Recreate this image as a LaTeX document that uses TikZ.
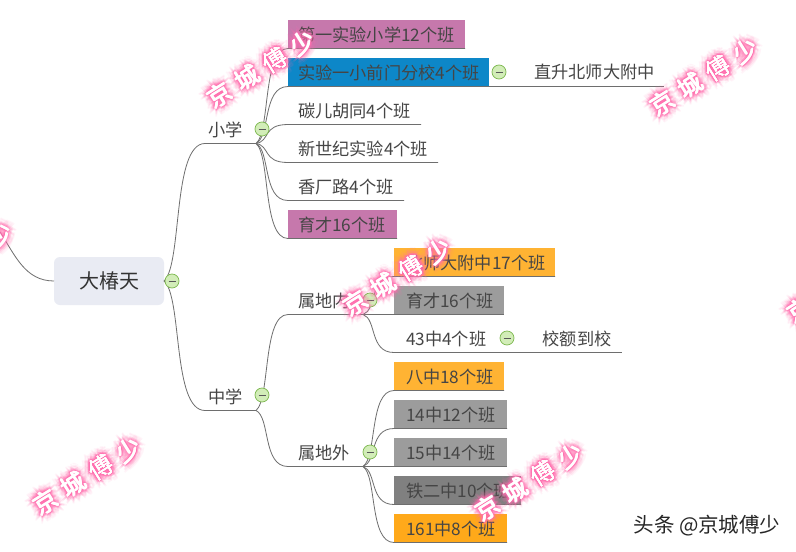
\documentclass[tikz,border=0pt]{standalone}
\usepackage{fontspec}
\usetikzlibrary{calc}
\setmainfont{Noto Sans CJK SC}
\definecolor{txt}{HTML}{454545}
\definecolor{lnk}{HTML}{6E6E6E}
\definecolor{pinkbox}{HTML}{C678AC}
\definecolor{bluebox}{HTML}{0D87C8}
\definecolor{ambbox}{HTML}{FFB333}
\definecolor{orgbox}{HTML}{FFA91A}
\definecolor{graybox}{HTML}{9C9C9C}
\definecolor{dgraybox}{HTML}{808080}
\definecolor{rootbox}{HTML}{E9EBF3}
\definecolor{glow}{HTML}{FF6FB0}
\definecolor{foldfill}{HTML}{D2EDB8}
\definecolor{foldline}{HTML}{7DB84F}
\tikzset{
  x=1pt,y=-1pt,
  conn/.style={draw=lnk,line width=0.8pt},
  topic/.style={anchor=south west,inner xsep=10pt,inner ysep=0pt,outer sep=0pt,
    minimum height=29pt,text height=15pt,text depth=1pt,align=left,
    text=txt,font=\fontsize{17.2}{17}\selectfont,text width=#1-20pt},
  tight/.style={inner xsep=3pt,text width=#1-6pt},
  plain/.style={anchor=center,inner sep=0pt,text=txt,font=\fontsize{17.2}{17}\selectfont},
  rootnode/.style={rectangle,rounded corners=6pt,fill=rootbox,minimum width=110pt,minimum height=48pt,
    inner sep=0pt,outer sep=0pt,text=black!80,font=\fontsize{20}{20}\selectfont},
  fold/.style={circle,draw=foldline,fill=foldfill,line width=0.7pt,
    minimum size=14pt,inner sep=0pt,
    path picture={\draw[black!65,line width=0.9pt] (-3.5pt,0pt) -- (3.5pt,0pt);}},
  capt/.style={anchor=center,inner sep=0pt,text=black!85,font=\fontsize{20.5}{21}\selectfont},
  wmglyph/.style={rotate=32,inner sep=0pt,font=\fontsize{24}{24}\selectfont}
}
% curved connector: from #1 to the start #2 of a topic, then along its underline to #3
\newcommand{\conn}[3]{%
  \draw[conn] let \p1=(#1),\p2=(#2) in (\p1)
    .. controls ({\x1+0.45*(\x2-\x1)},{\y1+0.12*(\y2-\y1)}) and ({\x1+0.2*(\x2-\x1)},\y2) .. (\p2) -- (#3);}
\newcommand{\wmtext}{京\hspace{8.7pt}城\hspace{8.7pt}傅\hspace{8.7pt}少}
% watermark: rings of pink copies for the glow, white text on top
\newcommand{\wm}[3]{%
  \foreach \rr/\oo in {8/.07,6.5/.09,5/.12,3.5/.2,2.2/.3,1.1/.5}{%
    \foreach \aa in {0,45,...,315}{%
      \node[wmglyph,text=glow,opacity=\oo,name=#1-\rr-\aa] at ($(#2,#3)+(\aa:\rr)$) {\wmtext};}}
  \foreach \aa in {0,90,180,270}{%
    \node[wmglyph,text=white,name=#1-w-\aa] at ($(#2,#3)+(\aa:0.4)$) {\wmtext};}}
\begin{document}
\begin{tikzpicture}
\clip (0,0) rectangle (796,552);
\fill[white] (0,0) rectangle (796,552);

% nodes
\node[rootnode] (root) at (109,281) {大椿天};
\coordinate (offleft) at (0,232);

\node[topic=51,tight=51] (xx) at (205,143.5) {小学};
\node[topic=51,tight=51] (zx) at (205,410.5) {中学};

\node[topic=177,fill=pinkbox] (a1) at (288,48.5) {第一实验小学12个班};
\node[topic=201,fill=bluebox] (a2) at (288,86.5) {实验一小前门分校4个班};
\node[topic=133] (a3) at (288,124.5) {碳儿胡同4个班};
\node[topic=150] (a4) at (288,162.5) {新世纪实验4个班};
\node[topic=116] (a5) at (288,200.5) {香厂路4个班};
\node[topic=109,fill=pinkbox] (a6) at (288,238.5) {育才16个班};
\coordinate (a2end) at (664,86.5);
\node[plain] (a2x) at (594.5,72) {直升北师大附中};

\node[topic=75] (nei) at (288,314.5) {属地内};
\node[topic=75] (wai) at (288,466.5) {属地外};

\node[topic=161,inner xsep=12pt,text width=137pt,fill=ambbox] (b1) at (394,276.5) {北师大附中17个班};
\node[topic=110,inner xsep=12pt,text width=86pt,fill=graybox] (b2) at (394,314.5) {育才16个班};
\node[topic=100,inner xsep=12pt,text width=76pt] (b3) at (394,352.5) {43中4个班};
\coordinate (b3end) at (622,352.5);
\node[plain] (b3x) at (577,338.5) {校额到校};

\node[topic=110,fill=ambbox,inner xsep=12pt,text width=86pt] (c1) at (394,390.5) {八中18个班};
\node[topic=113,fill=graybox,inner xsep=12pt,text width=89pt] (c2) at (394,428.5) {14中12个班};
\node[topic=113,fill=graybox,inner xsep=12pt,text width=89pt] (c3) at (394,466.5) {15中14个班};
\node[topic=127,fill=dgraybox,inner xsep=12pt,text width=103pt] (c4) at (394,504.5) {铁二中10个班};
\node[topic=113,fill=orgbox,inner xsep=12pt,text width=89pt] (c5) at (394,542.5) {161中8个班};

% connectors
\draw[conn] (root.west) .. controls (25,281) and (15,255) .. (offleft);
\conn{root.east}{xx.south west}{xx.south east}
\conn{root.east}{zx.south west}{zx.south east}
\foreach \q in {a1,a2,a3,a4,a5,a6}{\conn{xx.south east}{\q.south west}{\q.south east}}
\draw[conn] (a2.south east) -- (a2end);
\conn{zx.south east}{nei.south west}{nei.south east}
\conn{zx.south east}{wai.south west}{wai.south east}
\foreach \q in {b1,b2,b3}{\conn{nei.south east}{\q.south west}{\q.south east}}
\draw[conn] (b3.south east) -- (b3end);
\foreach \q in {c1,c2,c3,c4,c5}{\conn{wai.south east}{\q.south west}{\q.south east}}

% fold markers
\node[fold] (f0) at (172,281) {};
\node[fold] (f1) at (262,129) {};
\node[fold] (f2) at (262,395) {};
\node[fold] (f3) at (499,72) {};
\node[fold] (f4) at (370,300) {};
\node[fold] (f5) at (370,452) {};
\node[fold] (f6) at (507,338) {};

% watermarks
\wm{wa}{261}{69}
\wm{wb}{704}{77}
\wm{wc}{397}{277}
\wm{wd}{87}{476}
\wm{we}{529}{482}
\wm{wf}{841}{284}
\wm{wg}{-41.5}{261}

\node[capt] (cap) at (707,526) {头条 @京城傅少};
\end{tikzpicture}
\end{document}
